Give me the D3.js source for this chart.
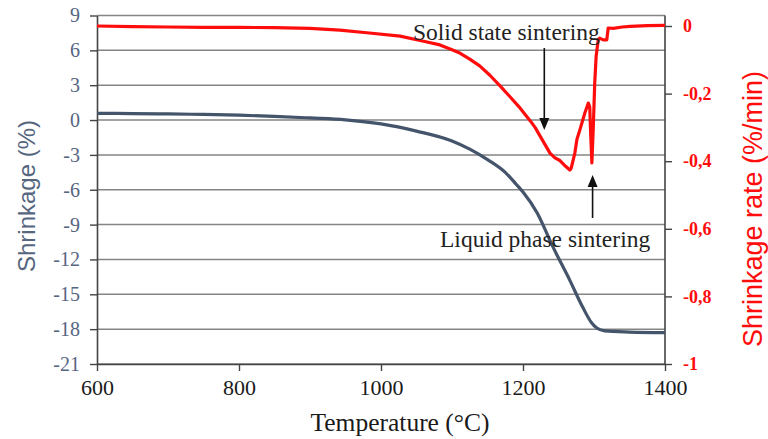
<!DOCTYPE html>
<html>
<head>
<meta charset="utf-8">
<script src="https://cdn.jsdelivr.net/npm/d3@7"></script>
<style>
  html, body { margin: 0; padding: 0; background: #fff; }
  svg { display: block; }
</style>
</head>
<body>
<svg id="chart" width="768" height="439"></svg>
<script>
// ---- data ----
const temperature = [600, 650, 700, 750, 800, 850, 900, 950, 1000, 1050, 1100, 1125, 1150, 1175, 1190, 1200, 1220, 1242, 1266, 1284, 1296, 1304, 1315, 1350, 1400];
const shrinkage   = [0.58, 0.56, 0.53, 0.48, 0.42, 0.32, 0.18, 0.02, -0.33, -0.95, -1.8, -2.5, -3.4, -4.5, -5.5, -6.2, -8.0, -10.9, -13.8, -16.1, -17.4, -17.9, -18.15, -18.25, -18.3];

const rateTemperature = [600, 650, 700, 750, 800, 850, 900, 942, 980, 1027, 1060, 1083, 1100, 1111, 1125, 1139, 1153, 1168, 1182, 1196, 1210, 1217, 1228, 1238, 1245, 1252, 1260, 1266, 1268, 1273, 1276, 1280, 1287, 1292, 1294, 1295, 1297, 1299, 1301, 1303, 1306, 1308, 1313, 1318, 1320, 1327, 1340, 1351, 1375, 1400];
const shrinkageRate   = [0, -0.002, -0.003, -0.004, -0.004, -0.005, -0.007, -0.012, -0.02, -0.03, -0.045, -0.056, -0.07, -0.08, -0.098, -0.118, -0.145, -0.178, -0.21, -0.243, -0.28, -0.30, -0.34, -0.376, -0.39, -0.398, -0.415, -0.426, -0.42, -0.376, -0.335, -0.308, -0.258, -0.228, -0.24, -0.3, -0.405, -0.3, -0.17, -0.09, -0.04, -0.036, -0.041, -0.041, -0.006, -0.007, -0.003, -0.001, 0.001, 0.002];

const xTicks = [600, 800, 1000, 1200, 1400];
const leftTicks = [9, 6, 3, 0, -3, -6, -9, -12, -15, -18, -21];
const leftTickLabels = ["9", "6", "3", "0", "-3", "-6", "-9", "-12", "-15", "-18", "-21"];
const rightTicks = [0, -0.2, -0.4, -0.6, -0.8, -1];
const rightTickLabels = ["0", "-0,2", "-0,4", "-0,6", "-0,8", "-1"];

const annotations = [
  { text: "Solid state sintering", t: 1230, tx: 413 },
  { text: "Liquid phase sintering", t: 1298, tx: 440 }
];

// ---- layout ----
const svg = d3.select("#chart");
const pLeft = 97, pRight = 665, pTop = 15.5, pBottom = 364;
const x = d3.scaleLinear().domain([600, 1400]).range([pLeft, pRight]);
const yL = d3.scaleLinear().domain([-21, 9]).range([pBottom, pTop]);
const yR = d3.scaleLinear().domain([-1, 0]).range([pBottom, 26]);

const serif = "'Liberation Serif', 'Times New Roman', serif";
const sans = "'Liberation Sans', Arial, sans-serif";
const blueGrey = "#56667f";
const red = "#ff0d0d";

// gridlines
svg.append("g").selectAll("line").data(leftTicks).join("line")
  .attr("x1", pLeft).attr("x2", pRight)
  .attr("y1", d => yL(d)).attr("y2", d => yL(d))
  .attr("stroke", "#858585").attr("stroke-width", 1.5);

// left axis
const gL = svg.append("g").attr("transform", `translate(${pLeft},0)`)
  .call(d3.axisLeft(yL).tickValues(leftTicks).tickFormat((d, i) => leftTickLabels[i]).tickSize(7).tickSizeOuter(0).tickPadding(10));
gL.select(".domain").attr("stroke", "#444").attr("stroke-width", 1.6);
gL.selectAll(".tick line").attr("stroke", "#444").attr("stroke-width", 1.4);
gL.selectAll(".tick text").attr("font-family", serif).attr("font-size", 20).attr("fill", blueGrey);

// right axis
const gR = svg.append("g").attr("transform", `translate(${pRight},0)`)
  .call(d3.axisRight(yR).tickValues(rightTicks).tickFormat((d, i) => rightTickLabels[i]).tickSize(7).tickSizeOuter(0).tickPadding(11));
gR.select(".domain").remove();
gR.append("line").attr("x1", 0).attr("x2", 0).attr("y1", pTop).attr("y2", pBottom).attr("stroke", "#444").attr("stroke-width", 1.6);
gR.selectAll(".tick line").attr("stroke", "#444").attr("stroke-width", 1.4);
gR.selectAll(".tick text").attr("font-family", serif).attr("font-size", 18).attr("font-weight", "bold").attr("fill", red);

// bottom axis
const gB = svg.append("g").attr("transform", `translate(0,${pBottom})`)
  .call(d3.axisBottom(x).tickValues(xTicks).tickFormat(d3.format("d")).tickSize(7).tickSizeOuter(0).tickPadding(8));
gB.select(".domain").attr("stroke", "#444").attr("stroke-width", 1.6);
gB.selectAll(".tick line").attr("stroke", "#444").attr("stroke-width", 1.4);
gB.selectAll(".tick text").attr("font-family", serif).attr("font-size", 22).attr("fill", "#1a1a1a");

// series
const lineL = d3.line().x((d, i) => x(temperature[i])).y(d => yL(d)).curve(d3.curveMonotoneX);
svg.append("path").datum(shrinkage).attr("d", lineL)
  .attr("fill", "none").attr("stroke", "#44546a").attr("stroke-width", 3.2);

const lineR = d3.line().x((d, i) => x(rateTemperature[i])).y(d => yR(d));
svg.append("path").datum(shrinkageRate).attr("d", lineR)
  .attr("fill", "none").attr("stroke", red).attr("stroke-width", 3.2).attr("stroke-linejoin", "round");

// annotations
svg.append("text").attr("x", annotations[0].tx).attr("y", 40)
  .attr("font-family", serif).attr("font-size", 23.5).attr("fill", "#222").text(annotations[0].text);
svg.append("text").attr("x", annotations[1].tx).attr("y", 247)
  .attr("font-family", serif).attr("font-size", 23.5).attr("fill", "#222").text(annotations[1].text);

// arrows
function arrow(xp, y1, y2) {
  const dir = y2 > y1 ? 1 : -1;
  svg.append("line").attr("x1", xp).attr("x2", xp).attr("y1", y1).attr("y2", y2 - dir * 10)
    .attr("stroke", "#111").attr("stroke-width", 1.6);
  svg.append("path")
    .attr("d", `M${xp - 5},${y2 - dir * 12} L${xp + 5},${y2 - dir * 12} L${xp},${y2} Z`)
    .attr("fill", "#111");
}
arrow(x(annotations[0].t), 48, 130);
arrow(x(annotations[1].t), 218, 175);

// axis titles
svg.append("text").attr("transform", `translate(35,196) rotate(-90)`)
  .attr("text-anchor", "middle").attr("font-family", sans).attr("font-size", 24)
  .attr("fill", blueGrey).text("Shrinkage  (%)");
svg.append("text").attr("transform", `translate(762,209) rotate(-90)`)
  .attr("text-anchor", "middle").attr("font-family", sans).attr("font-size", 27)
  .attr("fill", red).text("Shrinkage rate (%/min)");
svg.append("text").attr("x", 400).attr("y", 431)
  .attr("text-anchor", "middle").attr("font-family", serif).attr("font-size", 25.5)
  .attr("fill", "#1a1a1a").text("Temperature (°C)");
</script>
</body>
</html>
